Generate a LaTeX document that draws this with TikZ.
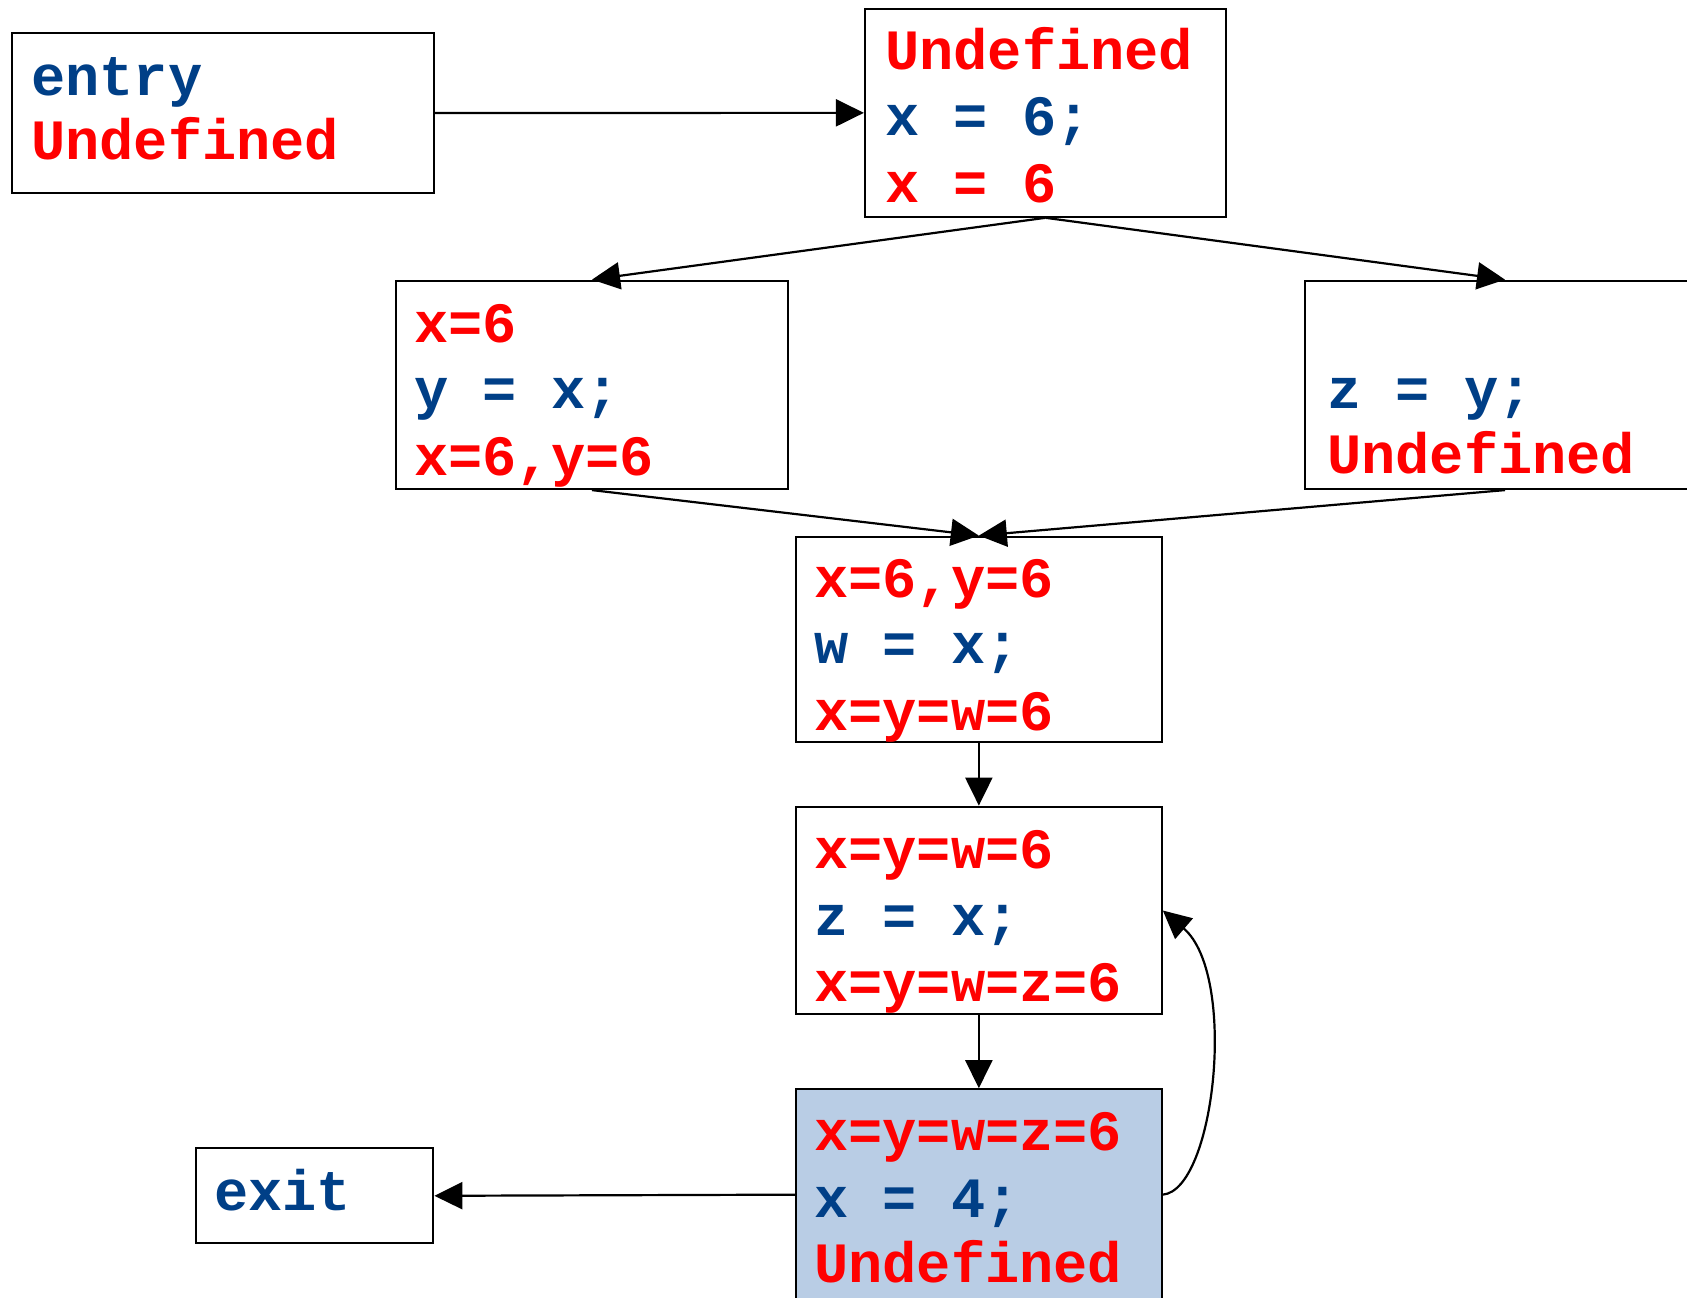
\documentclass[tikz,border=0pt]{standalone}
\usepackage{fontspec}
\newfontfamily\codefont{Liberation Mono}
\usetikzlibrary{arrows.meta}
\definecolor{codeblue}{RGB}{0,63,135}
\definecolor{codered}{RGB}{255,0,0}
\definecolor{boxfill}{RGB}{185,205,229}
\tikzset{
  blk/.style={draw=black, line width=2.2pt, rectangle, inner sep=0pt, fill=white},
  codeline/.style={anchor=base west, inner sep=0pt, font=\codefont\bfseries\fontsize{57}{66}\selectfont},
  red/.style={codeline, text=codered},
  blue/.style={codeline, text=codeblue},
  flow/.style={line width=2.2pt, -{Triangle[length=28pt,width=27pt]}}
}
\begin{document}
\begin{tikzpicture}[x=1pt,y=-1pt]
\path[use as bounding box, fill=white] (0,0) rectangle (1687,1298);
\clip (0,0) rectangle (1687,1298);
% boxes
\node[blk, minimum width=422pt, minimum height=159.4pt] (entry) at (222.7,113) {};
\node[blk, minimum width=361pt, minimum height=207.7pt] (top) at (1045.5,112.85) {};
\node[blk, minimum width=392.6pt, minimum height=208.3pt] (left) at (592,384.85) {};
\node[blk, minimum width=400pt, minimum height=208.3pt] (right) at (1505,384.85) {};
\node[blk, minimum width=365.7pt, minimum height=205.6pt] (mid1) at (978.85,639.5) {};
\node[blk, minimum width=365.7pt, minimum height=207.6pt] (mid2) at (978.85,910.5) {};
\node[blk, fill=boxfill, minimum width=365.7pt, minimum height=210.7pt] (bot) at (978.85,1194.65) {};
\node[blk, minimum width=237.6pt, minimum height=95pt] (exit) at (314.5,1195.8) {};
% texts
\node[blue] (e1) at (31,95.3) {entry};
\node[red]  (e2) at (31,159.3) {Undefined};
\node[red]  (t1) at (885,70) {Undefined};
\node[blue] (t2) at (885,135) {x = 6;};
\node[red]  (t3) at (885,202) {x = 6};
\node[red]  (l1) at (414,342) {x=6};
\node[blue] (l2) at (414,408.7) {y = x;};
\node[red]  (l3) at (414,475.3) {x=6,y=6};
\node[blue] (r2) at (1327,408.7) {z = y;};
\node[red]  (r3) at (1327,473.7) {Undefined};
\node[red]  (a1) at (814,597) {x=6,y=6};
\node[blue] (a2) at (814,663.7) {w = x;};
\node[red]  (a3) at (814,730.3) {x=y=w=6};
\node[red]  (b1) at (814,868.7) {x=y=w=6};
\node[blue] (b2) at (814,935.3) {z = x;};
\node[red]  (b3) at (814,1001.3) {x=y=w=z=6};
\node[red]  (c1) at (814,1150.3) {x=y=w=z=6};
\node[blue] (c2) at (814,1217) {x = 4;};
\node[red]  (c3) at (814,1282) {Undefined};
\node[blue] (x1) at (214,1210.3) {exit};
% connectors
\draw[flow] (entry.east) -- (top.west);
\draw[flow] (top.south) -- (left.north);
\draw[flow] (top.south) -- (right.north);
\draw[flow] (left.south) -- (mid1.north);
\draw[flow] (right.south) -- (mid1.north);
\draw[flow] (mid1.south) -- (mid2.north);
\draw[flow] (mid2.south) -- (bot.north);
\draw[flow] (bot.west) -- (exit.east);
\draw[flow] (bot.east) .. controls (1215,1190) and (1238,975) .. (mid2.east);
\end{tikzpicture}
\end{document}
